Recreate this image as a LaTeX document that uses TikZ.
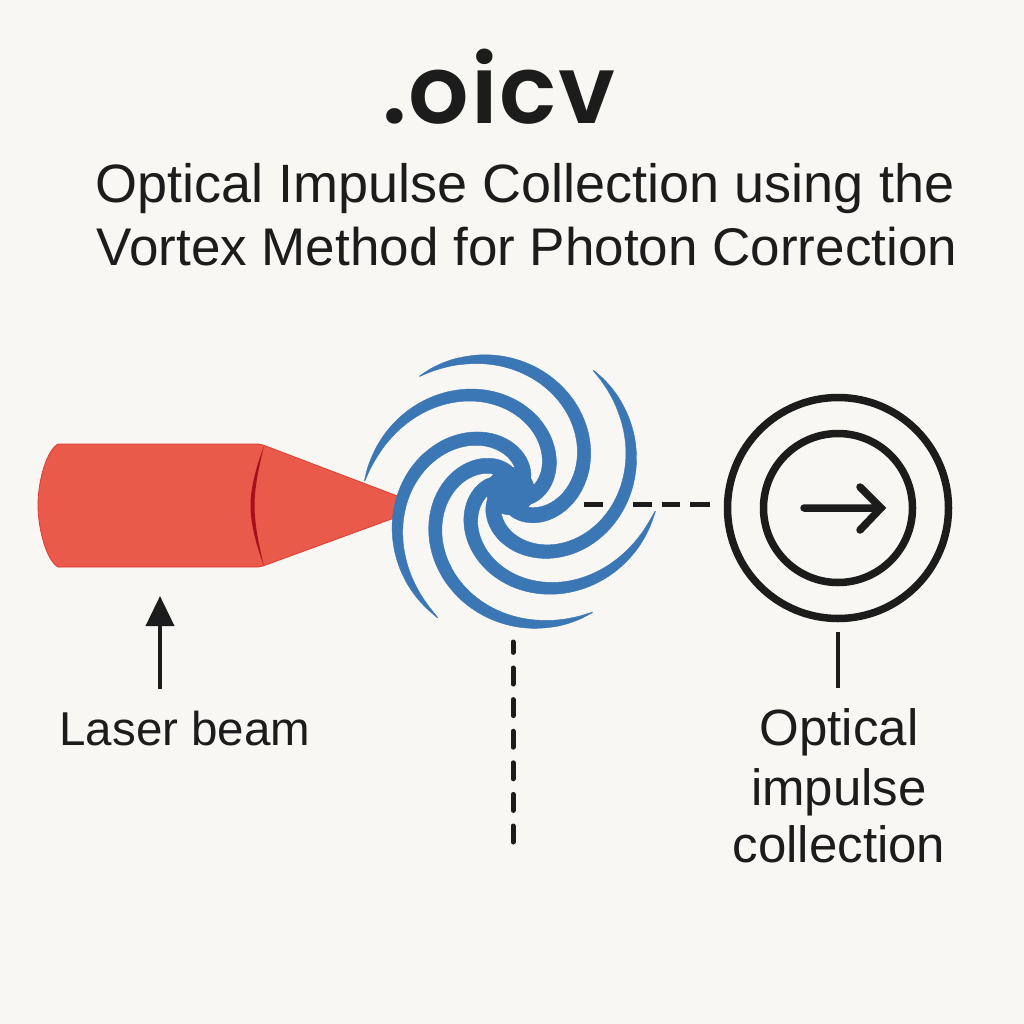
\documentclass[tikz,border=0pt]{standalone}
\usepackage{fontspec}
\setmainfont{Liberation Sans}
\newfontfamily\titlefont[LetterSpace=2]{Poppins SemiBold}
\usetikzlibrary{arrows.meta}
\definecolor{paper}{HTML}{F8F7F4}
\definecolor{ink}{HTML}{1C1C1C}
\definecolor{beamred}{HTML}{E95A4A}
\definecolor{beamedge}{HTML}{DF3B2F}
\definecolor{beamfold}{HTML}{A80F1C}
\definecolor{swirlblue}{HTML}{3B76B5}
\tikzset{
	ring/.style={circle, draw=ink, line width=7.5pt, inner sep=0pt},
	label/.style={text=ink, anchor=base, font=\fontsize{47.5}{47.5}\selectfont},
	subtitle/.style={label, font=\fontsize{54}{54}\selectfont},
	collect/.style={label, font=\fontsize{51}{51}\selectfont},
	swirl/.style={fill=swirlblue, draw=swirlblue, line width=.4pt, line join=round},
	dashline/.style={draw=ink, line width=5pt},
	declare function={
		armreach(\t,\l)=440*exp((\l/156)^1.7)*exp(-((\t+\l)/156)^1.7);
		armwidth(\t)=41*(1-exp(-\t/25))+36*(\t/200)^3;
	},
}
\begin{document}
\begin{tikzpicture}[x=1pt, y=-1pt]
	\useasboundingbox (0,0) rectangle (1024,1024);
	\fill[paper] (0,0) rectangle (1024,1024);
	\node[label, font=\titlefont\fontsize{95}{95}\selectfont] (title) at (499,124) {.oicv};
	\node[subtitle] (subone) at (525,203) {Optical Impulse Collection using the};
	\node[subtitle, font=\fontsize{53}{53}\selectfont] (subtwo) at (527,265) {Vortex Method for Photon Correction};
	% beam
	\filldraw[fill=beamred, draw=beamedge, line width=.8pt, line join=round] (58,444) .. controls (47,450) and (38,480) .. (38,505) .. controls (38,530) and (47,561) .. (58,567) -- (258,567) -- (263,566) -- (397,517) -- (400,497) -- (263,445) -- (258,444) -- cycle;
	\fill[beamfold] (264,446) .. controls (255,470) and (250.5,490) .. (250.5,505) .. controls (250.5,522) and (255,542) .. (264,566) .. controls (258,542) and (254.5,522) .. (254.5,505) .. controls (254.5,490) and (258,470) .. (264,446) -- cycle;
	\coordinate (beamfoot) at (160,596);
	\coordinate (arrowtail) at (160,689);
	\draw[ink, line width=4pt, -{Triangle[length=30pt, width=28pt]}] (arrowtail) -- (beamfoot);
	\node[label] (laser) at (185,745) {Laser beam};
	% dashes under the swirl
	\coordinate (swirlright) at (584,504);
	\coordinate (ringleft) at (710,504);
	\draw[dashline, dash pattern=on 19pt off 30pt on 19pt off 10pt on 18pt off 10pt on 20pt] (swirlright) -- (ringleft);
	\coordinate (swirlfoot) at (513,642);
	\coordinate (dashend) at (513,843);
	\draw[dashline, line cap=round, dash pattern=on 16pt off 15.6pt, dash phase=5.6pt] (swirlfoot) -- (dashend);
	% swirl, one arm turned six ways
	\begin{scope}[shift={(510.5,491)}, x=.3333pt, y=.3333pt]
		\coordinate (eye) at (0,0);
		\fill[swirl] (eye) circle (72);
		\foreach \tip/\lead in {129.4/0, 56.5/3, -7/15, -55/2, -119/14, 177/12}
			\filldraw[swirl] plot[smooth, domain=1:240, samples=50] ({\tip-\x}:{armreach(\x,\lead)}) -- plot[smooth, domain=240:1, samples=50] ({\tip-\x}:{armreach(\x,\lead)-armwidth(\x)}) -- cycle;
	\end{scope}
	% collector
	\node[ring, minimum size=221pt] (outerring) at (838,508) {};
	\node[ring, minimum size=149pt] (innerring) at (838,508) {};
	\coordinate (pointtail) at (804,508);
	\coordinate (pointtip) at (881,508);
	\coordinate (barbup) at (860,487);
	\coordinate (barbdown) at (860,530);
	\draw[ink, line width=7.5pt, line cap=round, line join=miter] (pointtail) -- (pointtip) (barbup) -- (pointtip) -- (barbdown);
	\coordinate (stemtop) at (838,632);
	\coordinate (stemend) at (838,688);
	\draw[ink, line width=4.5pt] (stemtop) -- (stemend);
	\node[collect] (collectone) at (839,745) {Optical};
	\node[collect] (collecttwo) at (839,805) {impulse};
	\node[collect] (collectthree) at (839,862) {collection};
\end{tikzpicture}
\end{document}
